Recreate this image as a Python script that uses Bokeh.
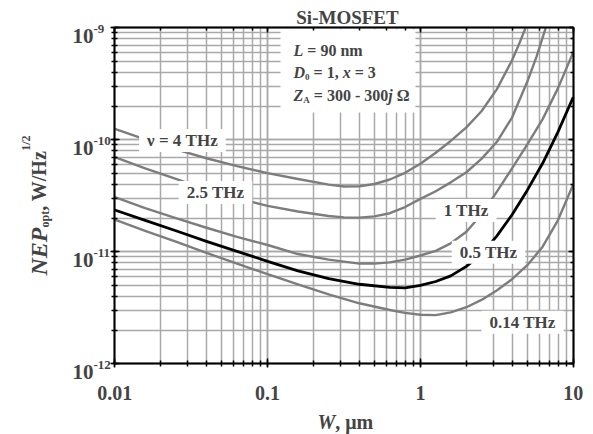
import numpy as np
from bokeh.plotting import figure
from bokeh.models import Label, LogAxis, LogTicker, CustomJSTickFormatter, BoxAnnotation
from bokeh.embed import file_html
from bokeh.resources import INLINE

# ---------------- data ----------------
W_4THZ = [0.01, 0.0158, 0.0251, 0.0398, 0.0631, 0.1, 0.158, 0.251, 0.316, 0.398, 0.501, 0.631, 0.794,
          1.0, 1.26, 1.58, 2.0, 2.51, 3.16, 3.98, 4.47, 4.88]
NEP_4THZ = [1.25e-10, 1.01e-10, 8.22e-11, 6.84e-11, 5.82e-11, 5.04e-11, 4.47e-11, 3.98e-11, 3.83e-11, 3.85e-11,
            4.03e-11, 4.42e-11, 5.07e-11, 6.11e-11, 7.67e-11, 9.77e-11, 1.29e-10, 1.80e-10, 2.82e-10, 5.13e-10,
            7.41e-10, 1.0e-9]

W_25THZ = [0.01, 0.0158, 0.0251, 0.0398, 0.0631, 0.1, 0.158, 0.251, 0.316, 0.398, 0.501, 0.631, 0.794,
           1.0, 1.26, 1.58, 2.0, 2.51, 3.16, 3.98, 5.01, 5.75, 6.61]
NEP_25THZ = [7.0e-11, 5.56e-11, 4.47e-11, 3.59e-11, 3.02e-11, 2.57e-11, 2.29e-11, 2.09e-11, 2.03e-11, 2.02e-11,
             2.07e-11, 2.21e-11, 2.51e-11, 2.97e-11, 3.47e-11, 4.17e-11, 5.13e-11, 6.76e-11, 9.55e-11, 1.58e-10,
             3.31e-10, 5.50e-10, 1.0e-9]

W_1THZ = [0.01, 0.0158, 0.0251, 0.0398, 0.0631, 0.1, 0.158, 0.251, 0.398, 0.501, 0.631, 0.794,
          1.0, 1.26, 1.58, 2.0, 2.51, 3.16, 3.98, 5.01, 6.31, 7.94, 10.0]
NEP_1THZ = [3.08e-11, 2.45e-11, 2.0e-11, 1.64e-11, 1.36e-11, 1.15e-11, 9.55e-12, 8.51e-12, 7.85e-12, 7.85e-12,
            8.04e-12, 8.51e-12, 9.27e-12, 1.02e-11, 1.19e-11, 1.51e-11, 2.16e-11, 3.43e-11, 5.56e-11, 9.12e-11,
            1.53e-10, 2.88e-10, 6.03e-10]

W_05THZ = [0.01, 0.0158, 0.0251, 0.0398, 0.0631, 0.1, 0.158, 0.251, 0.398, 0.631, 0.794,
           1.0, 1.26, 1.58, 2.0, 2.51, 3.16, 3.98, 5.01, 6.31, 7.94, 10.0]
NEP_05THZ = [2.36e-11, 1.91e-11, 1.54e-11, 1.24e-11, 1.01e-11, 8.22e-12, 6.76e-12, 5.75e-12, 5.13e-12, 4.81e-12,
             4.76e-12, 5.01e-12, 5.43e-12, 6.10e-12, 7.41e-12, 9.55e-12, 1.38e-11, 2.14e-11, 3.55e-11, 6.17e-11,
             1.17e-10, 2.40e-10]

W_014THZ = [0.01, 0.0158, 0.0251, 0.0398, 0.0631, 0.1, 0.158, 0.251, 0.398, 0.631, 0.794,
            1.0, 1.26, 1.58, 2.0, 2.51, 3.16, 3.98, 5.01, 6.31, 7.94, 10.0]
NEP_014THZ = [1.94e-11, 1.54e-11, 1.23e-11, 9.77e-12, 7.85e-12, 6.31e-12, 5.13e-12, 4.17e-12, 3.47e-12, 3.02e-12,
              2.85e-12, 2.74e-12, 2.72e-12, 2.88e-12, 3.20e-12, 3.72e-12, 4.52e-12, 5.69e-12, 7.59e-12, 1.11e-11,
              1.91e-11, 3.98e-11]

CURVE_LABELS = ["\u03bd = 4 THz", "2.5 THz", "1 THz", "0.5 THz", "0.14 THz"]
LABEL_W = [0.0277, 0.0456, 1.99, 2.79, 4.66]
LABEL_NEP = [9.86e-11, 3.38e-11, 2.34e-11, 9.9e-12, 2.35e-12]

X_MIN, X_MAX = 0.01, 10.0
Y_MIN, Y_MAX = 1e-12, 1e-9
X_TICKS = [0.01, 0.1, 1, 10]
X_TICK_LABELS = ["0.01", "0.1", "1", "10"]
Y_TICKS = [1e-9, 1e-10, 1e-11, 1e-12]
Y_TICK_EXP = ["-9", "-10", "-11", "-12"]

TITLE = "Si-MOSFET"

# ---------------- layout constants (screen px) ----------------
FONT = "Liberation Serif"
WIDTH, HEIGHT = 593, 434
FL, FR, FT, FB = 114.3, 572.7, 27.3, 363.3   # plot-area edges
SX = (FR - FL) / 3.0                           # px per decade (x)
SY = (FB - FT) / 3.0                           # px per decade (y)
GRID = "#a9a9a9"
GRAY = "#7d7d7d"

# the whole canvas is the frame, so the plot area is a sub-region of it
x_lo = 10 ** (np.log10(X_MIN) - FL / SX)
x_hi = 10 ** (np.log10(X_MAX) + (WIDTH - FR) / SX)
y_hi = 10 ** (np.log10(Y_MAX) + FT / SY)
y_lo = 10 ** (np.log10(Y_MIN) - (HEIGHT - FB) / SY)

p = figure(width=WIDTH, height=HEIGHT, x_axis_type="log", y_axis_type="log",
           x_range=(x_lo, x_hi), y_range=(y_lo, y_hi),
           output_backend="svg", toolbar_location=None, min_border=0)
p.background_fill_color = "white"
p.border_fill_color = "white"
p.outline_line_color = None

blank = CustomJSTickFormatter(code="return ''")


def style_axis(ax, tin, tout, mtin, mtout):
    ax.formatter = blank
    ax.major_tick_in = tin
    ax.major_tick_out = tout
    ax.minor_tick_in = mtin
    ax.minor_tick_out = mtout
    ax.axis_line_width = 2
    ax.major_tick_line_width = 1.5
    ax.minor_tick_line_width = 1.5
    ax.axis_line_color = "black"
    ax.major_tick_line_color = "black"
    ax.minor_tick_line_color = "black"
    ax.major_label_standoff = 0


for ax in p.xaxis:
    ax.fixed_location = Y_MIN
    ax.bounds = (X_MIN, X_MAX)
    style_axis(ax, 5, 4, 3, 3)
for ax in p.yaxis:
    ax.fixed_location = X_MIN
    ax.bounds = (Y_MIN, Y_MAX)
    style_axis(ax, 5, 4, 3, 3)

top = LogAxis(ticker=LogTicker(), fixed_location=Y_MAX, bounds=(X_MIN, X_MAX))
style_axis(top, 5, 0, 3, 0)
p.add_layout(top, "above")
right = LogAxis(ticker=LogTicker(), fixed_location=X_MAX, bounds=(Y_MIN, Y_MAX))
style_axis(right, 5, 0, 3, 0)
p.add_layout(right, "right")

# grid restricted to the plot area
xg, yg = p.xgrid[0], p.ygrid[0]
for g in (xg, yg):
    g.grid_line_color = GRID
    g.grid_line_width = 1.5
    g.minor_grid_line_color = GRID
    g.minor_grid_line_width = 1.5
xg.bounds = (X_MIN, X_MAX)
yg.bounds = (Y_MIN, Y_MAX)
try:
    xg.cross_bounds = (Y_MIN, Y_MAX)
    yg.cross_bounds = (X_MIN, X_MAX)
except AttributeError:
    # fallback: long gray ticks from hidden axes act as grid lines
    xg.visible = False
    yg.visible = False
    gx = LogAxis(ticker=LogTicker(), fixed_location=Y_MIN, bounds=(X_MIN, X_MAX), level="underlay")
    style_axis(gx, FB - FT, 0, FB - FT, 0)
    gx.axis_line_color = None
    gx.major_tick_line_color = GRID
    gx.minor_tick_line_color = GRID
    p.add_layout(gx, "below")
    gy = LogAxis(ticker=LogTicker(), fixed_location=X_MIN, bounds=(Y_MIN, Y_MAX), level="underlay")
    style_axis(gy, FR - FL, 0, FR - FL, 0)
    gy.axis_line_color = None
    gy.major_tick_line_color = GRID
    gy.minor_tick_line_color = GRID
    p.add_layout(gy, "left")


def sx2data(sx):
    return 10 ** (np.log10(X_MIN) + (sx - FL) / SX)


def sy2data(sy):
    return 10 ** (np.log10(Y_MAX) - (sy - FT) / SY)


# white box behind the parameter text
p.add_layout(BoxAnnotation(left=sx2data(280), right=sx2data(415), top=sy2data(FT + 1.5), bottom=sy2data(112),
                           fill_color="white", fill_alpha=1.0, line_color=None, level="glyph"))

# curves
series = [(W_4THZ, NEP_4THZ, GRAY), (W_25THZ, NEP_25THZ, GRAY), (W_1THZ, NEP_1THZ, GRAY),
          (W_014THZ, NEP_014THZ, GRAY), (W_05THZ, NEP_05THZ, "black")]
for w, n, c in series:
    p.line(w, n, line_color=c, line_width=2.4 if c != "black" else 2.8, line_join="round")

# curve labels with white backgrounds
for t, w, n in zip(CURVE_LABELS, LABEL_W, LABEL_NEP):
    p.add_layout(Label(x=w, y=n, text=t, text_align="center", text_baseline="middle",
                       text_font=FONT, text_font_style="bold", text_font_size="17px",
                       background_fill_color="white", padding=(8, 2)))

# ---------------- text helpers ----------------
BOLD = {' ': .25, '=': .57, ',': .25, '-': .333, '.': .25, '/': .278, 'n': .556, 'm': .833, 'o': .5,
        'p': .556, 't': .333, 'z': .444, 'A': .722, 'H': .778, 'T': .667, 'W': 1.0,
        '\u03bc': .556, '\u03a9': .77}
for d in "0123456789":
    BOLD[d] = .5
BI = {'L': .611, 'D': .722, 'x': .5, 'Z': .611, 'j': .278, 'N': .722, 'E': .667, 'P': .611, 'W': .889}


def twidth(s, size, style):
    tab = BI if "italic" in style else BOLD
    return sum(tab.get(ch, .5) for ch in s) * size


def put(sx, sy, text, size, style, align="left", angle=0.0):
    p.add_layout(Label(x=X_MIN, y=Y_MAX, x_offset=sx - FL, y_offset=FT - sy, text=text,
                       text_font=FONT, text_font_size=f"{size}px", text_font_style=style,
                       text_align=align, text_baseline="alphabetic", angle=angle))


def rich(segments, sx, sy, vertical=False):
    for txt, size, style, shift in segments:
        lead = len(txt) - len(txt.lstrip(' '))
        core = txt.strip(' ')
        lw = twidth(' ' * lead, size, "bold")
        if vertical:
            put(sx + shift, sy - lw, core, size, style, angle=np.pi / 2)
            sy -= twidth(txt, size, style)
        else:
            put(sx + lw, sy + shift, core, size, style)
            sx += twidth(txt, size, style)


# tick labels
for v, lab in zip(X_TICKS, X_TICK_LABELS):
    p.add_layout(Label(x=v, y=Y_MIN, y_offset=-29, text=lab, text_align="center", text_baseline="alphabetic",
                       text_font=FONT, text_font_style="bold", text_font_size="20px"))
for v, e in zip(Y_TICKS, Y_TICK_EXP):
    p.add_layout(Label(x=X_MIN, y=v, x_offset=93 - FL, y_offset=-8, text="10", text_align="right",
                       text_baseline="alphabetic", text_font=FONT, text_font_style="bold", text_font_size="21px"))
    p.add_layout(Label(x=X_MIN, y=v, x_offset=93 - FL, y_offset=-1, text=e, text_align="left",
                       text_baseline="alphabetic", text_font=FONT, text_font_style="bold", text_font_size="13px"))

# title
put(347, 17, TITLE, 19, "bold", align="center")

# parameter box text
rich([("L", 16, "bold italic", 0), (" = 90 nm", 16, "bold", 0)], 293, 50)
rich([("D", 16, "bold italic", 0), ("0", 9, "bold", 4), (" = 1, ", 16, "bold", 0),
      ("x", 16, "bold italic", 0), (" = 3", 16, "bold", 0)], 293, 72)
rich([("Z", 16, "bold italic", 0), ("A", 9, "bold", 4), (" = 300 - 300", 16, "bold", 0),
      ("j", 16, "bold italic", 0), (" \u03a9", 16, "bold", 0)], 293, 95)

# axis titles
rich([("W", 20, "bold italic", 0), (", \u03bcm", 20, "bold", 0)], 317, 421)
rich([("NEP", 24, "bold italic", 0), ("opt", 12, "bold", 6), (", W/Hz", 20, "bold", 0),
      ("1/2", 12, "bold", -13)], 38, 275, vertical=True)

open("out.html", "w").write(file_html(p, INLINE))
